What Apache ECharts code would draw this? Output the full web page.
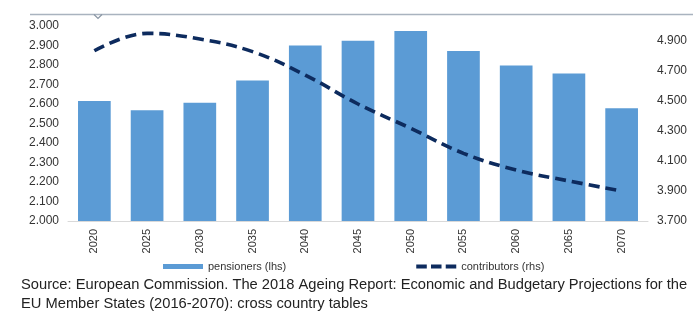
<!DOCTYPE html>
<html>
<head>
<meta charset="utf-8">
<script src="https://cdn.jsdelivr.net/npm/echarts@6/dist/echarts.min.js"></script>
<style>html,body{margin:0;padding:0;background:#fff;}#c{width:700px;height:323px;}</style>
</head>
<body>
<div id="c"></div>
<script>
const years = ['2020','2025','2030','2035','2040','2045','2050','2055','2060','2065','2070'];
const pensioners = [2.615, 2.568, 2.607, 2.720, 2.900, 2.925, 2.974, 2.872, 2.798, 2.757, 2.578];
const contributors = [4.835, 4.951, 4.913, 4.829, 4.673, 4.480, 4.318, 4.151, 4.040, 3.967, 3.900];
const sourceLines = ['Source: European Commission. The 2018 Ageing Report: Economic and Budgetary Projections for the',
                     'EU Member States (2016-2070): cross country tables'];

const chart = echarts.init(document.getElementById('c'), null, {renderer:'canvas'});
const font = 'Liberation Sans, Arial, sans-serif';
chart.setOption({
  animation: false,
  textStyle: {fontFamily: font},
  grid: {left: 68, right: 52, top: 26, bottom: 102, containLabel: false},
  legend: {
    left: 158, top: 256, itemGap: 130, itemWidth: 40, itemHeight: 5,
    textStyle: {fontFamily: font, fontSize: 11, color: '#333'},
    data: [
      {name: 'pensioners (lhs)', icon: 'rect'},
      {name: 'contributors (rhs)', icon: 'path://M0,0h10v4h-10z M14,0h10v4h-10z M28,0h10v4h-10z',
       itemStyle: {color: '#0d2b5e'}}
    ]
  },
  xAxis: {
    type: 'category', data: years,
    axisLine: {lineStyle: {color: '#d9d9d9'}},
    axisTick: {show: false},
    axisLabel: {rotate: 90, color: '#333', fontSize: 11, fontFamily: font, margin: 8}
  },
  yAxis: [{
    type: 'value', min: 2.0, max: 3.0, interval: 0.1,
    splitLine: {show: false}, axisLine: {show: false}, axisTick: {show: false},
    axisLabel: {color: '#333', fontSize: 12, fontFamily: font, margin: 9,
      formatter: v => v.toFixed(3)}
  }, {
    type: 'value', min: 3.7, max: 5.0, interval: 0.2,
    splitLine: {show: false}, axisLine: {show: false}, axisTick: {show: false},
    axisLabel: {color: '#333', fontSize: 12, fontFamily: font, margin: 9,
      formatter: v => v > 4.95 ? '' : v.toFixed(3)}
  }],
  series: [{
    name: 'pensioners (lhs)', type: 'bar', data: pensioners,
    barCategoryGap: '38%', itemStyle: {color: '#5b9bd5'}
  }, {
    name: 'contributors (rhs)', type: 'line', yAxisIndex: 1, data: contributors,
    smooth: 0.4, symbol: 'none',
    lineStyle: {color: '#0d2b5e', width: 3.6, type: [11, 6]},
    itemStyle: {color: '#0d2b5e'}
  }],
  graphic: [
    {type: 'line', shape: {x1: 30, y1: 14.5, x2: 693, y2: 14.5}, style: {stroke: '#a9b3bf', lineWidth: 1.3}},
    {type: 'polyline', shape: {points: [[94, 14.5], [98, 18.5], [102, 14.5]]}, style: {stroke: '#8a96a4', lineWidth: 1.2, fill: null}},
    {type: 'text', left: 21, top: 277, style: {text: sourceLines[0], font: '14.7px ' + font, fill: '#222'}},
    {type: 'text', left: 21, top: 296, style: {text: sourceLines[1], font: '14.7px ' + font, fill: '#222'}}
  ]
});
</script>
</body>
</html>
